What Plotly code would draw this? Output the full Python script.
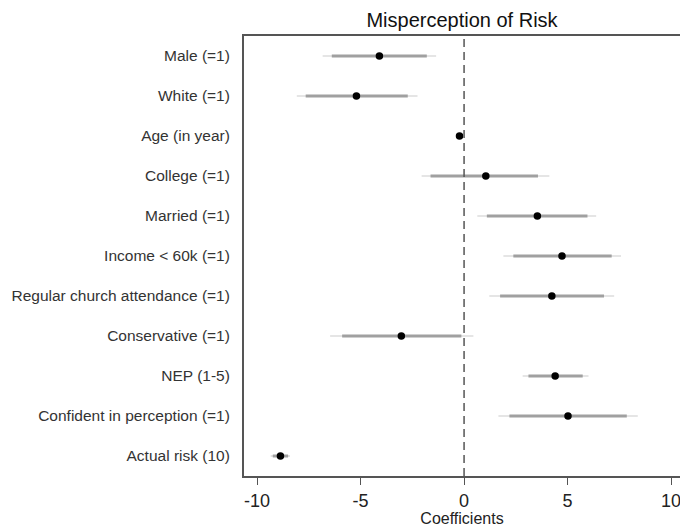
import plotly.graph_objects as go

# Regression coefficients with 95% (thin) and 90% (thick) confidence intervals
variables = [
    "Male (=1)",
    "White (=1)",
    "Age (in year)",
    "College (=1)",
    "Married (=1)",
    "Income < 60k (=1)",
    "Regular church attendance (=1)",
    "Conservative (=1)",
    "NEP (1-5)",
    "Confident in perception (=1)",
    "Actual risk (10)",
]
coef = [-4.09, -5.20, -0.22, 1.05, 3.54, 4.73, 4.24, -3.03, 4.40, 5.02, -8.87]
ci95_lo = [-6.83, -8.08, -0.38, -2.05, 0.64, 1.90, 1.22, -6.47, 2.83, 1.66, -9.34]
ci95_hi = [-1.35, -2.25, -0.06, 4.12, 6.38, 7.58, 7.25, 0.45, 6.01, 8.39, -8.41]
ci90_lo = [-6.39, -7.65, -0.34, -1.62, 1.10, 2.38, 1.74, -5.89, 3.11, 2.19, -9.24]
ci90_hi = [-1.80, -2.72, -0.10, 3.57, 5.96, 7.13, 6.76, -0.13, 5.73, 7.86, -8.50]
x_ticks = [-10, -5, 0, 5, 10]

rows = list(range(len(variables)))
font = "Liberation Sans, Arial, Helvetica, sans-serif"


def ci_trace(lo, hi, color, width):
    return go.Scatter(
        x=coef,
        y=rows,
        mode="markers",
        marker=dict(size=1, color="rgba(0,0,0,0)"),
        error_x=dict(
            type="data",
            symmetric=False,
            array=[h - c for h, c in zip(hi, coef)],
            arrayminus=[c - l for c, l in zip(coef, lo)],
            color=color,
            thickness=width,
            width=0,
        ),
        hoverinfo="skip",
        showlegend=False,
    )


fig = go.Figure()
fig.add_trace(ci_trace(ci95_lo, ci95_hi, "#dcdcdc", 1.6))
fig.add_trace(ci_trace(ci90_lo, ci90_hi, "#a0a0a0", 3))

fig.add_vline(x=0, line=dict(color="#555555", width=1.5, dash="8px,5px"))

fig.add_trace(
    go.Scatter(
        x=coef,
        y=rows,
        mode="markers",
        marker=dict(size=7.5, color="black"),
        showlegend=False,
    )
)

fig.update_layout(
    width=680,
    height=527,
    margin=dict(l=244, r=0, t=36, b=51, autoexpand=False),
    paper_bgcolor="white",
    plot_bgcolor="white",
    font=dict(family=font, color="#222222"),
    title=dict(
        text="Misperception of Risk",
        x=0.5,
        xref="paper",
        xanchor="center",
        y=1 - 20 / 527,
        yanchor="middle",
        font=dict(size=20, color="#111111", family=font),
    ),
    xaxis=dict(
        range=[-10.63, 10.43],
        tickvals=x_ticks,
        ticktext=[str(v) for v in x_ticks],
        ticks="outside",
        ticklen=7,
        tickwidth=1.2,
        tickcolor="#555555",
        tickfont=dict(size=18, color="#222222"),
        ticklabeloverflow="allow",
        showgrid=False,
        zeroline=False,
        showline=True,
        linecolor="#555555",
        linewidth=2,
        mirror=True,
        title=dict(text="Coefficients", font=dict(size=16, color="#222222"), standoff=9),
    ),
    yaxis=dict(
        range=[10.5, -0.5],
        tickvals=rows,
        ticktext=variables,
        ticks="outside",
        ticklen=9,
        tickcolor="rgba(0,0,0,0)",
        tickfont=dict(size=15.5, color="#333333"),
        showgrid=False,
        zeroline=False,
        showline=True,
        linecolor="#555555",
        linewidth=2,
        mirror=False,
    ),
)

fig.write_html("out.html")
